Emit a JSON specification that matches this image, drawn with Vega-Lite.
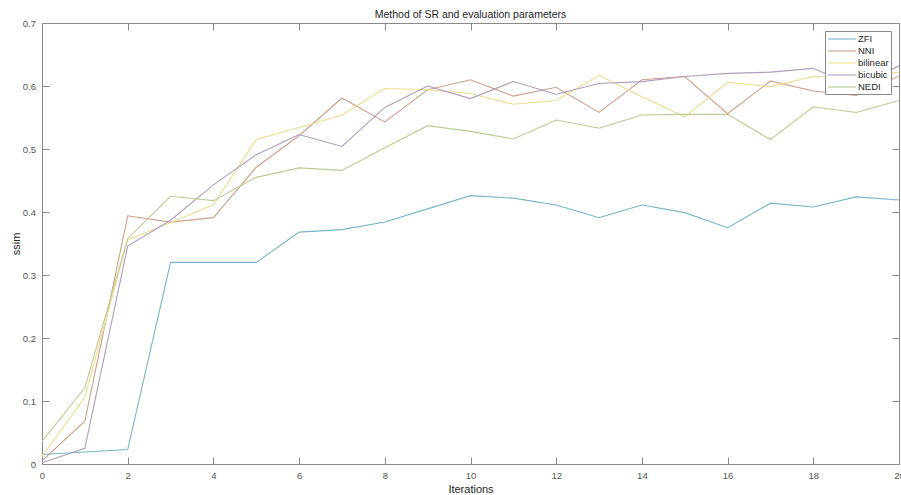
{
  "$schema": "https://vega.github.io/schema/vega-lite/v6.json",
  "width": 857,
  "height": 441,
  "autosize": "none",
  "padding": {"left": 42, "top": 23, "right": 2, "bottom": 31},
  "background": "white",
  "title": {"text": "Method of SR and evaluation parameters", "fontSize": 10.5, "fontWeight": "normal", "font": "Liberation Sans", "color": "#262626", "offset": -2, "anchor": "middle"},
  "config": {
    "view": {"stroke": "#8a8a8a", "strokeWidth": 1},
    "axis": {"grid": false, "domain": false, "labelFlush": false, "labelOverlap": false, "tickColor": "#8a8a8a", "tickWidth": 1, "labelFont": "Liberation Sans", "labelFontSize": 9.5, "labelColor": "#555555", "titleFont": "Liberation Sans", "titleFontSize": 11, "titleFontWeight": "normal", "titleColor": "#262626"},
    "legend": {"labelFont": "Liberation Sans"}
  },
  "data": {"values": [
    {"iter": 0, "method": "ZFI", "ssim": 0.015}, {"iter": 1, "method": "ZFI", "ssim": 0.019}, {"iter": 2, "method": "ZFI", "ssim": 0.023}, {"iter": 3, "method": "ZFI", "ssim": 0.32}, {"iter": 4, "method": "ZFI", "ssim": 0.32}, {"iter": 5, "method": "ZFI", "ssim": 0.32}, {"iter": 6, "method": "ZFI", "ssim": 0.368}, {"iter": 7, "method": "ZFI", "ssim": 0.372}, {"iter": 8, "method": "ZFI", "ssim": 0.384}, {"iter": 9, "method": "ZFI", "ssim": 0.405}, {"iter": 10, "method": "ZFI", "ssim": 0.426}, {"iter": 11, "method": "ZFI", "ssim": 0.422}, {"iter": 12, "method": "ZFI", "ssim": 0.411}, {"iter": 13, "method": "ZFI", "ssim": 0.391}, {"iter": 14, "method": "ZFI", "ssim": 0.411}, {"iter": 15, "method": "ZFI", "ssim": 0.399}, {"iter": 16, "method": "ZFI", "ssim": 0.375}, {"iter": 17, "method": "ZFI", "ssim": 0.414}, {"iter": 18, "method": "ZFI", "ssim": 0.408}, {"iter": 19, "method": "ZFI", "ssim": 0.424}, {"iter": 20, "method": "ZFI", "ssim": 0.419},
    {"iter": 0, "method": "NNI", "ssim": 0.005}, {"iter": 1, "method": "NNI", "ssim": 0.068}, {"iter": 2, "method": "NNI", "ssim": 0.394}, {"iter": 3, "method": "NNI", "ssim": 0.384}, {"iter": 4, "method": "NNI", "ssim": 0.391}, {"iter": 5, "method": "NNI", "ssim": 0.471}, {"iter": 6, "method": "NNI", "ssim": 0.521}, {"iter": 7, "method": "NNI", "ssim": 0.581}, {"iter": 8, "method": "NNI", "ssim": 0.543}, {"iter": 9, "method": "NNI", "ssim": 0.594}, {"iter": 10, "method": "NNI", "ssim": 0.61}, {"iter": 11, "method": "NNI", "ssim": 0.584}, {"iter": 12, "method": "NNI", "ssim": 0.598}, {"iter": 13, "method": "NNI", "ssim": 0.558}, {"iter": 14, "method": "NNI", "ssim": 0.61}, {"iter": 15, "method": "NNI", "ssim": 0.615}, {"iter": 16, "method": "NNI", "ssim": 0.556}, {"iter": 17, "method": "NNI", "ssim": 0.608}, {"iter": 18, "method": "NNI", "ssim": 0.592}, {"iter": 19, "method": "NNI", "ssim": 0.585}, {"iter": 20, "method": "NNI", "ssim": 0.616},
    {"iter": 0, "method": "bilinear", "ssim": 0.012}, {"iter": 1, "method": "bilinear", "ssim": 0.106}, {"iter": 2, "method": "bilinear", "ssim": 0.356}, {"iter": 3, "method": "bilinear", "ssim": 0.383}, {"iter": 4, "method": "bilinear", "ssim": 0.412}, {"iter": 5, "method": "bilinear", "ssim": 0.515}, {"iter": 6, "method": "bilinear", "ssim": 0.534}, {"iter": 7, "method": "bilinear", "ssim": 0.554}, {"iter": 8, "method": "bilinear", "ssim": 0.596}, {"iter": 9, "method": "bilinear", "ssim": 0.594}, {"iter": 10, "method": "bilinear", "ssim": 0.588}, {"iter": 11, "method": "bilinear", "ssim": 0.571}, {"iter": 12, "method": "bilinear", "ssim": 0.577}, {"iter": 13, "method": "bilinear", "ssim": 0.617}, {"iter": 14, "method": "bilinear", "ssim": 0.583}, {"iter": 15, "method": "bilinear", "ssim": 0.551}, {"iter": 16, "method": "bilinear", "ssim": 0.606}, {"iter": 17, "method": "bilinear", "ssim": 0.599}, {"iter": 18, "method": "bilinear", "ssim": 0.615}, {"iter": 19, "method": "bilinear", "ssim": 0.614}, {"iter": 20, "method": "bilinear", "ssim": 0.622},
    {"iter": 0, "method": "bicubic", "ssim": 0.002}, {"iter": 1, "method": "bicubic", "ssim": 0.025}, {"iter": 2, "method": "bicubic", "ssim": 0.346}, {"iter": 3, "method": "bicubic", "ssim": 0.387}, {"iter": 4, "method": "bicubic", "ssim": 0.443}, {"iter": 5, "method": "bicubic", "ssim": 0.491}, {"iter": 6, "method": "bicubic", "ssim": 0.523}, {"iter": 7, "method": "bicubic", "ssim": 0.504}, {"iter": 8, "method": "bicubic", "ssim": 0.566}, {"iter": 9, "method": "bicubic", "ssim": 0.6}, {"iter": 10, "method": "bicubic", "ssim": 0.58}, {"iter": 11, "method": "bicubic", "ssim": 0.607}, {"iter": 12, "method": "bicubic", "ssim": 0.587}, {"iter": 13, "method": "bicubic", "ssim": 0.604}, {"iter": 14, "method": "bicubic", "ssim": 0.607}, {"iter": 15, "method": "bicubic", "ssim": 0.615}, {"iter": 16, "method": "bicubic", "ssim": 0.62}, {"iter": 17, "method": "bicubic", "ssim": 0.622}, {"iter": 18, "method": "bicubic", "ssim": 0.628}, {"iter": 19, "method": "bicubic", "ssim": 0.598}, {"iter": 20, "method": "bicubic", "ssim": 0.632},
    {"iter": 0, "method": "NEDI", "ssim": 0.036}, {"iter": 1, "method": "NEDI", "ssim": 0.121}, {"iter": 2, "method": "NEDI", "ssim": 0.358}, {"iter": 3, "method": "NEDI", "ssim": 0.425}, {"iter": 4, "method": "NEDI", "ssim": 0.418}, {"iter": 5, "method": "NEDI", "ssim": 0.455}, {"iter": 6, "method": "NEDI", "ssim": 0.47}, {"iter": 7, "method": "NEDI", "ssim": 0.466}, {"iter": 8, "method": "NEDI", "ssim": 0.502}, {"iter": 9, "method": "NEDI", "ssim": 0.537}, {"iter": 10, "method": "NEDI", "ssim": 0.528}, {"iter": 11, "method": "NEDI", "ssim": 0.516}, {"iter": 12, "method": "NEDI", "ssim": 0.546}, {"iter": 13, "method": "NEDI", "ssim": 0.533}, {"iter": 14, "method": "NEDI", "ssim": 0.554}, {"iter": 15, "method": "NEDI", "ssim": 0.555}, {"iter": 16, "method": "NEDI", "ssim": 0.555}, {"iter": 17, "method": "NEDI", "ssim": 0.515}, {"iter": 18, "method": "NEDI", "ssim": 0.567}, {"iter": 19, "method": "NEDI", "ssim": 0.558}, {"iter": 20, "method": "NEDI", "ssim": 0.577}
  ]},
  "layer": [
    {
      "mark": {"type": "line", "strokeWidth": 1.1, "clip": true},
      "encoding": {
        "x": {"field": "iter", "type": "quantitative", "scale": {"domain": [0, 20], "nice": false}, "axis": {"orient": "bottom", "values": [0, 2, 4, 6, 8, 10, 12, 14, 16, 18, 20], "offset": -7, "tickSize": 7, "labelPadding": 6, "title": "Iterations", "titlePadding": 4}},
        "y": {"field": "ssim", "type": "quantitative", "scale": {"domain": [0, 0.7], "nice": false}, "axis": {"orient": "left", "values": [0, 0.1, 0.2, 0.3, 0.4, 0.5, 0.6, 0.7], "format": ".1~f", "offset": -7, "tickSize": 7, "labelPadding": 6.5, "title": "ssim", "titlePadding": 1}},
        "color": {"field": "method", "type": "nominal", "sort": ["ZFI", "NNI", "bilinear", "bicubic", "NEDI"],
          "scale": {"domain": ["ZFI", "NNI", "bilinear", "bicubic", "NEDI"], "range": ["#78b4ca", "#d0a08a", "#f0da90", "#b29bbe", "#bccb98"]},
          "legend": {"orient": "top-right", "offset": 8, "title": null, "symbolType": "M-2.8,0H2.8", "symbolSize": 100, "symbolOffset": 9, "symbolStrokeWidth": 1.1, "labelOffset": 10, "labelFontSize": 9.5, "labelColor": "#262626", "rowPadding": 1, "padding": 2, "strokeColor": "#8a8a8a", "fillColor": "white"}}
      }
    },
    {
      "mark": {"type": "line", "strokeOpacity": 0},
      "encoding": {
        "x": {"field": "iter", "type": "quantitative", "scale": {"domain": [0, 20], "nice": false}, "axis": {"orient": "top", "values": [0, 2, 4, 6, 8, 10, 12, 14, 16, 18, 20], "offset": -7, "tickSize": 7, "labels": false, "title": null}},
        "y": {"field": "ssim", "type": "quantitative", "scale": {"domain": [0, 0.7], "nice": false}, "axis": {"orient": "right", "values": [0, 0.1, 0.2, 0.3, 0.4, 0.5, 0.6, 0.7], "offset": -7, "tickSize": 7, "labels": false, "title": null}},
        "detail": {"field": "method"}
      }
    }
  ],
  "resolve": {"axis": {"x": "independent", "y": "independent"}}
}
